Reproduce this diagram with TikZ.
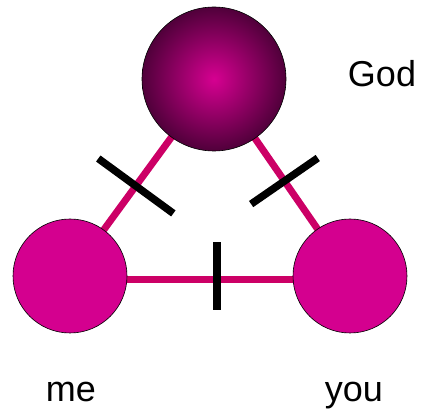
\documentclass[tikz,border=0pt]{standalone}
\usepackage{fontspec}
\setmainfont{Liberation Sans}
\usetikzlibrary{positioning,backgrounds}
\definecolor{godcore}{RGB}{214,0,145}
\definecolor{godrim}{RGB}{80,0,58}
\definecolor{soulpink}{RGB}{212,0,143}
\definecolor{bondpink}{RGB}{204,0,102}

\begin{document}
\begin{tikzpicture}[x=1pt, y=-1pt,
  soul/.style={draw=black, line width=0.6pt, circle, inner sep=0pt, minimum size=114pt, fill=soulpink},
  bond/.style={line width=7pt, draw=bondpink},
  cut/.style={fill=black, inner sep=0pt, minimum width=7.5pt, sloped},
  word/.style={font=\fontsize{36}{40}\selectfont, anchor=base, inner sep=0pt}]
  \useasboundingbox (0,0) rectangle (421,419);
  \node[draw=black, line width=0.6pt, circle, inner sep=0pt, minimum size=144pt,
        inner color=godcore, outer color=godrim] (god) at (214,79) {};
  \node[soul] (me) at (70,276) {};
  \node[soul] (you) at (350,276) {};
  \node[word] (godlbl) at (382,87) {God};
  \node[word] (melbl) at (71,402) {me};
  \node[word] (youlbl) at (354,402) {you};
  \begin{scope}[on background layer]
    \draw[bond] (me.center) -- node[cut, pos=0.457, minimum height=93pt] (cutme) {} (god.center);
    \draw[bond] (you.center) -- node[cut, pos=0.482, minimum height=81pt] (cutyou) {} (god.center);
    \draw[bond] ([yshift=-4pt]me.center) -- node[cut, pos=0.525, minimum height=68pt, yshift=4pt] (cutus) {} ([yshift=-4pt]you.center);
  \end{scope}
\end{tikzpicture}
\end{document}
